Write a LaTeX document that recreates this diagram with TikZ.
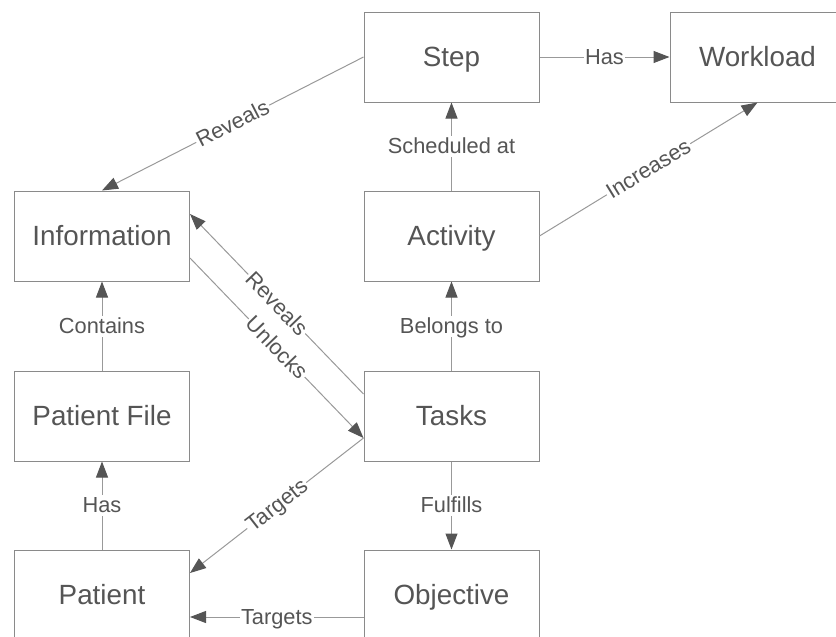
\documentclass[tikz,border=0pt]{standalone}
\usepackage{fontspec}
\setmainfont{Liberation Sans}
\usepackage{xcolor}
\usetikzlibrary{arrows.meta}

\definecolor{inkgray}{HTML}{555555}
\definecolor{linegray}{HTML}{999999}
\definecolor{boxgray}{HTML}{8A8A8A}

\tikzset{
    entity/.style={draw=boxgray, line width=1pt, fill=white, minimum width=175pt,
        minimum height=90pt, inner sep=0pt, text=inkgray, text height=21pt,
        text depth=2pt, font=\fontsize{27.8}{32}\selectfont},
    relation/.style={draw=linegray, line width=1pt,
        -{Triangle[length=16pt,width=12pt,fill=inkgray,color=inkgray]}},
    rellabel/.style={midway, fill=white, inner sep=1.5pt, text=inkgray,
        text height=16pt, text depth=2pt, font=\fontsize{21.8}{25}\selectfont}
}

\begin{document}
\begin{tikzpicture}[x=1pt, y=-1pt]
        \clip (0,0) rectangle (836,637);
        % Sizes
        \pgfmathsetmacro{\colA}{102}
        \pgfmathsetmacro{\colB}{451.5}
        \pgfmathsetmacro{\colC}{757.5}
        \pgfmathsetmacro{\off}{22}

        % entities
        \node[entity] (step) at (\colB, 57) {Step};
        \node[entity] (workload) at (\colC, 57) {Workload};
        \node[entity] (info) at (\colA, 236) {Information};
        \node[entity] (activity) at (\colB, 236) {Activity};
        \node[entity] (file) at (\colA, 416) {Patient File};
        \node[entity] (tasks) at (\colB, 416) {Tasks};
        \node[entity] (patient) at (\colA, 595) {Patient};
        \node[entity] (objective) at (\colB, 595) {Objective};

        % draw diagram
        \draw[relation] (step.east) -- (workload.west) node[rellabel] {Has};
        \draw[relation] (step.west) -- (info.north) node[rellabel, sloped] {Reveals};
        \draw[relation] (activity.north) -- (step.south) node[rellabel] {Scheduled at};
        \draw[relation] (activity.east) -- (workload.south) node[rellabel, sloped] {Increases};
        \draw[relation] ([yshift=\off pt]tasks.west) -- ([yshift=\off pt]info.east)
            node[rellabel, sloped] {Reveals};
        \draw[relation] ([yshift=-\off pt]info.east) -- ([yshift=-\off pt]tasks.west)
            node[rellabel, sloped] {Unlocks};
        \draw[relation] (tasks.north) -- (activity.south) node[rellabel] {Belongs to};
        \draw[relation] (tasks.south) -- (objective.north) node[rellabel] {Fulfills};
        \draw[relation] (file.north) -- (info.south) node[rellabel] {Contains};
        \draw[relation] (patient.north) -- (file.south) node[rellabel] {Has};
        \draw[relation] ([yshift=-\off pt]tasks.west) -- ([yshift=\off pt]patient.east)
            node[rellabel, sloped] {Targets};
        \draw[relation] ([yshift=-\off pt]objective.west) -- ([yshift=-\off pt]patient.east)
            node[rellabel] {Targets};
\end{tikzpicture}
\end{document}
